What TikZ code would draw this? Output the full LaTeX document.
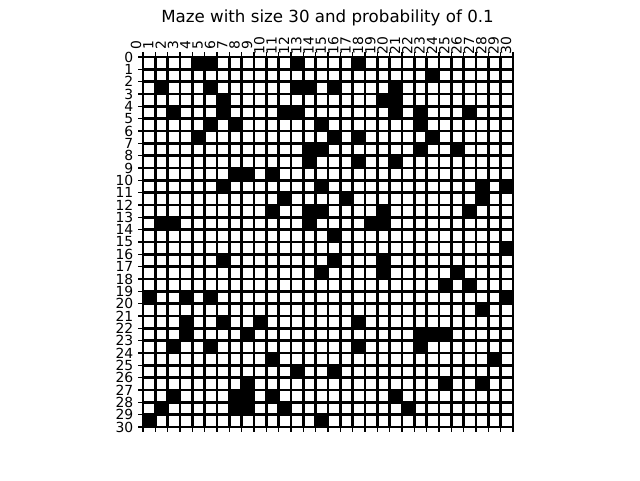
\documentclass[tikz,border=0pt]{standalone}
\usepackage{fontspec}
\setmainfont{DejaVu Sans}
\begin{document}
\begin{tikzpicture}[x=1pt,y=-1pt,
  gridline/.style={line width=2.5pt, line cap=rect},
  tickmark/.style={line width=1.1pt},
  ticklab/.style={font=\fontsize{13.9}{14}\selectfont, inner sep=0pt},
  titlelab/.style={font=\fontsize{16.67}{18}\selectfont, inner sep=0pt, anchor=base},
  cellfill/.style={fill=black}]
\def\cs{12.3333}
\useasboundingbox[fill=white] (0,0) rectangle (640,480);
\node[titlelab] (title) at (327.5,22.5) {Maze with size 30 and probability of 0.1};
\fill[white] (143,57) rectangle (513,427);
\foreach \i/\cols in {0/{4,5,12,17},1/{23},2/{1,5,12,13,15,20},3/{6,19,20},
  4/{2,6,11,12,20,22,26},5/{5,7,14,22},6/{4,15,17,23},7/{13,14,22,25},
  8/{13,17,20},9/{7,8,10},10/{6,14,27,29},11/{11,16,27},12/{10,13,14,19,26},
  13/{1,2,13,18,19},14/{15},15/{29},16/{6,15,19},17/{14,19,25},18/{24,26},
  19/{0,3,5,29},20/{27},21/{3,6,9,17},22/{3,8,22,23,24},23/{2,5,17,22},
  24/{10,28},25/{12,15},26/{8,24,27},27/{2,7,8,10,20},28/{1,7,8,11,21},29/{0,14}}{
  \foreach \j in \cols {
    \fill[cellfill] ({143+\j*\cs},{57+\i*\cs}) rectangle ++(\cs,\cs);
  }
}
\foreach \k in {0,...,30}{
  \draw[gridline] ({143+\k*\cs},57) -- ({143+\k*\cs},427);
  \draw[gridline] (143,{57+\k*\cs}) -- (513,{57+\k*\cs});
  \draw[tickmark] ({143+\k*\cs},57) -- ++(0,-4.9);
  \draw[tickmark] ({143+\k*\cs},427) -- ++(0,4.9);
  \draw[tickmark] (143,{57+\k*\cs}) -- ++(-4.9,0);
  \node[ticklab, anchor=east] (r\k) at (133.5,{57+\k*\cs}) {\k};
  \node[ticklab, rotate=90] (c\k) at ({136+\k*\cs},45.5) {\k};
}
\end{tikzpicture}
\end{document}
